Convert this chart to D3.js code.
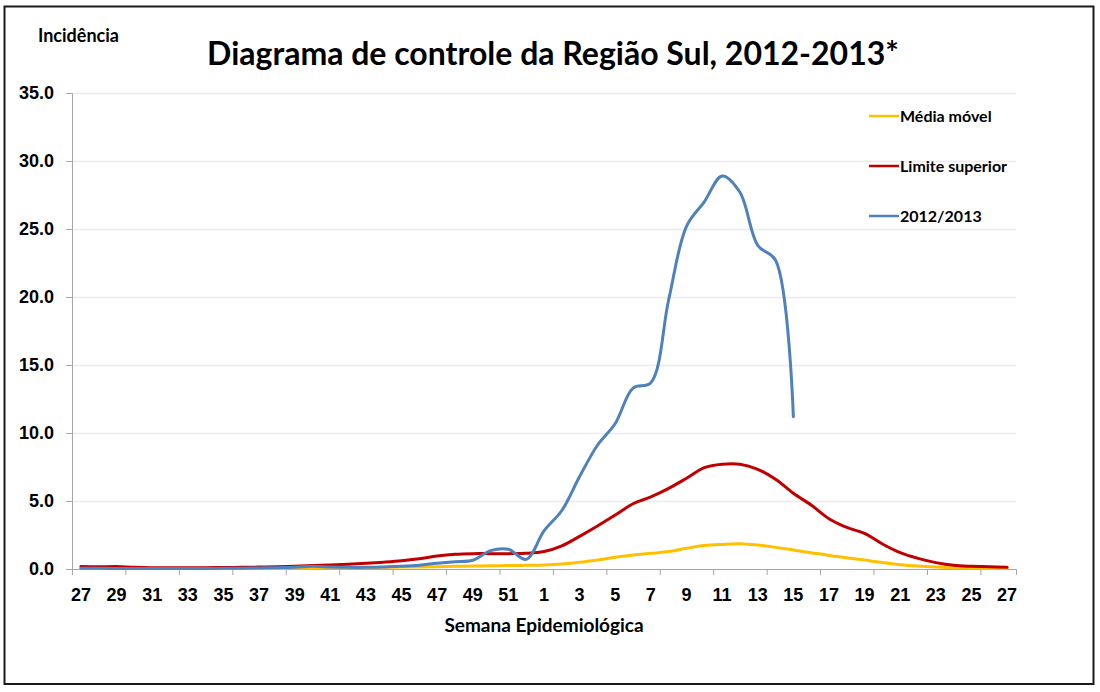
<!DOCTYPE html>
<html>
<head>
<meta charset="utf-8">
<script src="https://cdn.jsdelivr.net/npm/d3@7"></script>
<style>
	body { margin: 0; background: #fff; }
	svg { display: block; font-family: Lato, "Open Sans", sans-serif; font-weight: bold; }
</style>
</head>
<body>
<div id="chart"></div>
<script>
// semanas epidemiológicas, 27/2012 até 27/2013
const semanas = [27, 28, 29, 30, 31, 32, 33, 34, 35, 36, 37, 38, 39, 40, 41, 42, 43, 44, 45, 46, 47, 48, 49, 50, 51, 52,
	1, 2, 3, 4, 5, 6, 7, 8, 9, 10, 11, 12, 13, 14, 15, 16, 17, 18, 19, 20, 21, 22, 23, 24, 25, 26, 27];

const mediaMovel = [0.03, 0.03, 0.03, 0.03, 0.03, 0.03, 0.03, 0.04, 0.04, 0.05, 0.05, 0.06, 0.07, 0.08, 0.09, 0.10, 0.11, 0.12, 0.14, 0.15, 0.17, 0.20, 0.22, 0.24, 0.25, 0.27,
	0.30, 0.37, 0.49, 0.66, 0.86, 1.03, 1.15, 1.28, 1.52, 1.72, 1.81, 1.86, 1.76, 1.59, 1.40, 1.20, 1.00, 0.83, 0.66, 0.47, 0.32, 0.22, 0.15, 0.10, 0.08, 0.06, 0.05];

const limiteSuperior = [0.18, 0.16, 0.18, 0.12, 0.10, 0.10, 0.10, 0.10, 0.11, 0.12, 0.14, 0.16, 0.20, 0.25, 0.30, 0.35, 0.42, 0.50, 0.60, 0.75, 0.95, 1.08, 1.13, 1.13, 1.13, 1.15,
	1.28, 1.70, 2.40, 3.16, 3.97, 4.80, 5.30, 5.93, 6.67, 7.45, 7.70, 7.70, 7.33, 6.60, 5.57, 4.70, 3.70, 3.06, 2.62, 1.84, 1.20, 0.78, 0.47, 0.27, 0.20, 0.17, 0.12];

// 2012/2013 só até a semana 15
const casos2012_2013 = [0.05, 0.05, 0.04, 0.03, 0.03, 0.03, 0.03, 0.04, 0.05, 0.06, 0.08, 0.10, 0.12, 0.20, 0.15, 0.12, 0.12, 0.15, 0.20, 0.28, 0.42, 0.54, 0.64, 1.35, 1.45, 0.71,
	2.80, 4.30, 6.80, 9.10, 10.70, 13.30, 13.70, 19.80, 25.20, 27.00, 28.90, 27.70, 23.80, 22.70, 11.20];

const yTicks = [0, 5, 10, 15, 20, 25, 30, 35];

const series = [
	{nome: 'Média móvel', valores: mediaMovel, cor: '#FFC000'},
	{nome: 'Limite superior', valores: limiteSuperior, cor: '#C00000'},
	{nome: '2012/2013', valores: casos2012_2013, cor: '#4F81BD'}
];

const W = 1100, H = 692;
const plot = {left: 72, right: 1016, top: 93, bottom: 569};

const svg = d3.select('#chart').append('svg')
	.attr('width', W)
	.attr('height', H);

svg.append('rect')
	.attr('x', 4.5).attr('y', 6.5)
	.attr('width', 1089).attr('height', 677.5)
	.attr('fill', '#fff')
	.attr('stroke', '#1a1a1a')
	.attr('stroke-width', 2);

const xScale = d3.scaleBand()
	.domain(d3.range(semanas.length))
	.range([plot.left, plot.right]);

// escala auxiliar para as marcas entre categorias
const xEdge = d3.scaleLinear()
	.domain([0, semanas.length])
	.range([plot.left, plot.right]);

const yScale = d3.scaleLinear()
	.domain([0, 35])
	.range([plot.bottom, plot.top]);

// linhas de grade
const grid = svg.append('g')
	.attr('transform', 'translate(' + plot.left + ',0)')
	.call(d3.axisLeft(yScale).tickValues(yTicks.slice(1)).tickSize(-(plot.right - plot.left)).tickFormat(''));
grid.select('.domain').remove();
grid.selectAll('line').attr('stroke', '#ebebeb').attr('stroke-width', 1.3);

// eixo y
const yAxisG = svg.append('g')
	.attr('transform', 'translate(' + plot.left + ',0)')
	.call(d3.axisLeft(yScale).tickValues(yTicks).tickSize(6).tickPadding(12).tickFormat(d3.format('.1f')));
yAxisG.selectAll('line, path').attr('stroke', '#a6a6a6');
yAxisG.selectAll('text')
	.attr('fill', '#000')
	.style('font-size', '18px')
	.style('font-weight', 'bold');

// eixo x: marcas a cada 3 semanas
const xTickG = svg.append('g')
	.attr('transform', 'translate(0,' + plot.bottom + ')')
	.call(d3.axisBottom(xEdge).tickValues(d3.range(0, semanas.length, 3)).tickSize(6).tickFormat(''));
xTickG.selectAll('line, path').attr('stroke', '#a6a6a6');

// rótulos a cada 2 semanas
const xAxisG = svg.append('g')
	.attr('transform', 'translate(0,' + plot.bottom + ')')
	.call(d3.axisBottom(xScale)
		.tickValues(d3.range(0, semanas.length, 2))
		.tickSize(0)
		.tickPadding(19)
		.tickFormat(i => semanas[i]));
xAxisG.select('.domain').remove();
xAxisG.selectAll('text')
	.attr('fill', '#000')
	.style('font-size', '18px')
	.style('font-weight', 'bold');

// curvas
const line = d3.line()
	.x((d, i) => xScale(i) + xScale.bandwidth() / 2)
	.y(d => yScale(d))
	.curve(d3.curveCatmullRom.alpha(0.5));

svg.append('g').selectAll('path.serie')
	.data(series)
	.enter().append('path')
	.attr('class', 'serie')
	.attr('d', s => line(s.valores))
	.attr('fill', 'none')
	.attr('stroke', s => s.cor)
	.attr('stroke-width', 3)
	.attr('stroke-linejoin', 'round')
	.attr('stroke-linecap', 'round');

// legenda
const legend = svg.append('g').selectAll('g.leg')
	.data(series)
	.enter().append('g')
	.attr('class', 'leg')
	.attr('transform', (s, i) => 'translate(869,' + (116 + i * 50) + ')');
legend.append('line')
	.attr('x1', 0).attr('x2', 30)
	.attr('stroke', s => s.cor)
	.attr('stroke-width', 2.5);
legend.append('text')
	.attr('x', 31)
	.attr('dy', '0.35em')
	.style('font-size', '16px')
	.text(s => s.nome);

// títulos
svg.append('text')
	.attr('x', 553)
	.attr('y', 65)
	.attr('text-anchor', 'middle')
	.style('font-size', '32px')
	.text('Diagrama de controle da Região Sul, 2012-2013*');

svg.append('text')
	.attr('x', 38)
	.attr('y', 42)
	.style('font-size', '18px')
	.text('Incidência');

svg.append('text')
	.attr('x', 544)
	.attr('y', 632)
	.attr('text-anchor', 'middle')
	.style('font-size', '19px')
	.text('Semana Epidemiológica');
</script>
</body>
</html>
